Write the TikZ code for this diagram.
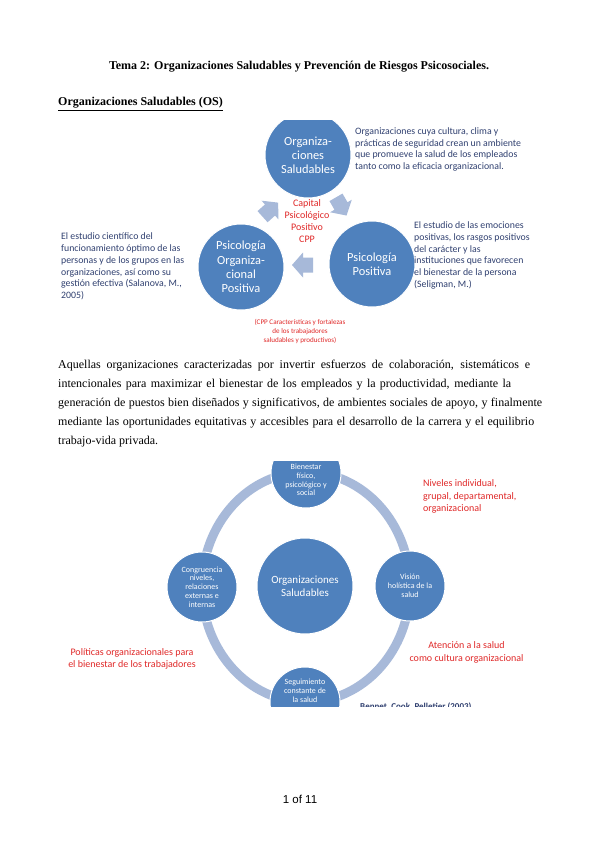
\documentclass[tikz,border=0pt]{standalone}
\usepackage{fontspec}
\setmainfont{Liberation Serif}
\newfontfamily\calfont{Carlito}
\newfontfamily\lsans{Liberation Sans}
\definecolor{circblue}{RGB}{79,129,189}
\definecolor{lightb}{RGB}{167,185,217}
\definecolor{redtxt}{RGB}{224,40,40}
\definecolor{bluetxt}{RGB}{48,64,112}
\tikzset{
  bigc/.style={circle, fill=circblue, draw=white, line width=1pt, inner sep=0pt, minimum size=86pt, text=white, align=center, font=\calfont\fontsize{12.4}{14.2}\selectfont},
  midc/.style={circle, fill=circblue, draw=white, line width=1pt, inner sep=0pt, minimum size=96pt, text=white, align=center, font=\calfont\fontsize{11}{12.5}\selectfont},
  smallc/.style={circle, fill=circblue, draw=white, line width=1pt, inner sep=0pt, minimum size=70pt, text=white, align=center, font=\calfont\fontsize{8}{8.8}\selectfont},
  smalltext/.style={inner sep=0pt, text=white, align=center, font=\calfont\fontsize{8}{8.8}\selectfont},
  cyc/.pic={\fill[lightb] (-10,-7.5) -- (0,-7.5) -- (0,-12.5) -- (11,0) -- (0,12.5) -- (0,7.5) -- (-10,7.5) -- cycle;},
  bluenote/.style={anchor=west, inner sep=0pt, align=left, text=bluetxt, font=\calfont\fontsize{9.8}{11.7}\selectfont},
  rednote/.style={inner sep=0pt, align=center, text=redtxt, font=\calfont\fontsize{10}{12.4}\selectfont},
  bodyline/.style={anchor=base west, inner sep=0pt, font=\fontsize{12}{14}\selectfont},
}
\begin{document}
\begin{tikzpicture}[x=1pt,y=-1pt]
\useasboundingbox[fill=white] (0,0) rectangle (599,848);
% headings
\node[inner sep=0pt, anchor=base, font=\bfseries\fontsize{12}{14}\selectfont] (title) at (299,70) {Tema 2: Organizaciones Saludables y Prevención de Riesgos Psicosociales.};
\node[inner sep=0pt, anchor=base west, font=\bfseries\fontsize{12}{14}\selectfont] (os) at (58,106) {\underline{Organizaciones Saludables (OS)}};
% top diagram
\begin{scope}
\clip (40,121) rectangle (560,350);
\node[bigc] (c1) at (308,155) {Organiza-\\ciones\\Saludables};
\node[bigc] (c2) at (372,264) {Psicología\\Positiva};
\node[bigc] (c3) at (241,267) {Psicología\\Organiza-\\cional\\Positiva};
\pic[rotate=42] (a1) at (270,210) {cyc};
\pic[rotate=-60] (a2) at (341,206) {cyc};
\pic[rotate=180] (a3) at (303,265) {cyc};
\node[rednote, font=\calfont\fontsize{10}{12}\selectfont] (cpp) at (307,221) {Capital\\Psicológico\\Positivo\\CPP};
\node[bluenote] (n1) at (355,149.5) {Organizaciones cuya cultura, clima y\\prácticas de seguridad crean un ambiente\\que promueve la salud de los empleados\\tanto como la eficacia organizacional.};
\node[bluenote] (n2) at (414,255.5) {El estudio de las emociones\\positivas, los rasgos positivos\\del carácter y las\\instituciones que favorecen\\el bienestar de la persona\\(Seligman, M.)};
\node[bluenote] (n3) at (61,266.5) {El estudio científico del\\funcionamiento óptimo de las\\personas y de los grupos en las\\organizaciones, así como su\\gestión efectiva (Salanova, M.,\\2005)};
\node[rednote, font=\calfont\fontsize{7.1}{9}\selectfont] (n4) at (300,331) {(CPP Características y fortalezas\\de los trabajadores\\saludables y productivos)};
\end{scope}
% paragraph
\node[bodyline] (p1) at (58,368) {\makebox[472pt][s]{Aquellas organizaciones caracterizadas por invertir esfuerzos de colaboración, sistemáticos e}};
\node[bodyline] (p2) at (58,387) {\makebox[453pt][s]{intencionales para maximizar el bienestar de los empleados y la productividad, mediante la}};
\node[bodyline] (p3) at (58,406) {\makebox[484pt][s]{generación de puestos bien diseñados y significativos, de ambientes sociales de apoyo, y finalmente}};
\node[bodyline] (p4) at (58,425) {\makebox[476pt][s]{mediante las oportunidades equitativas y accesibles para el desarrollo de la carrera y el equilibrio}};
\node[bodyline] (p5) at (58,444) {trabajo-vida privada.};
% bottom diagram
\begin{scope}
\clip (40,461) rectangle (560,706);
\draw[lightb, line width=9pt] (306,587) ellipse [x radius=104pt, y radius=115pt];
\node[midc] (m) at (305,586) {Organizaciones\\Saludables};
\node[smallc] (s1) at (306,473) {};
\node[smalltext] (s1t) at (306,480) {Bienestar\\físico,\\psicológico y\\social};
\node[smallc] (s2) at (410,586) {Visión\\holística de la\\salud};
\node[smallc] (s3) at (305,702) {};
\node[smalltext] (s3t) at (305,690.5) {Seguimiento\\constante de\\la salud};
\node[smallc] (s4) at (202,587) {Congruencia\\niveles,\\relaciones\\externas e\\internas};
\node[rednote, anchor=west, align=left] (r1) at (423,496.5) {Niveles individual,\\grupal, departamental,\\organizacional};
\node[rednote] (r2) at (466.5,652.5) {Atención a la salud\\como cultura organizacional};
\node[rednote] (r3) at (132,659) {Políticas organizacionales para\\el bienestar de los trabajadores};
\node[inner sep=0pt, anchor=base west, text=bluetxt, font=\calfont\bfseries\fontsize{9}{11}\selectfont] (cite) at (360,709.5) {Bennet, Cook, Pelletier (2003)};
\end{scope}
\node[inner sep=0pt, font=\lsans\fontsize{11.5}{13}\selectfont] (page) at (300,799) {1 of 11};
\end{tikzpicture}
\end{document}
